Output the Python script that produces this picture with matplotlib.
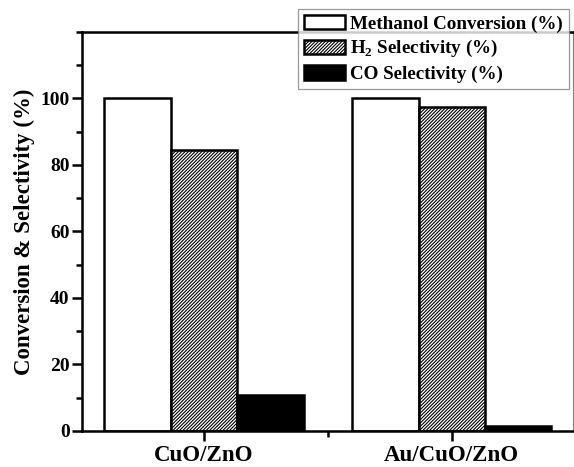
import matplotlib
matplotlib.use('Agg')
import matplotlib.pyplot as plt
import numpy as np
from matplotlib.ticker import MultipleLocator, FixedLocator

# data
catalysts = ['CuO/ZnO', 'Au/CuO/ZnO']
methanol_conv = [100.0, 100.0]
h2_sel = [84.5, 97.5]
co_sel = [10.8, 1.5]

plt.rcParams['font.family'] = ['Liberation Serif', 'DejaVu Serif']
plt.rcParams['font.weight'] = 'bold'
plt.rcParams['mathtext.fontset'] = 'custom'
plt.rcParams['mathtext.rm'] = 'Liberation Serif:bold'
plt.rcParams['mathtext.bf'] = 'Liberation Serif:bold'
plt.rcParams['hatch.linewidth'] = 0.8

fig = plt.figure(figsize=(5.74, 4.67), dpi=100)
ax = fig.add_axes([0.1429, 0.0771, 0.855, 0.8544])

x = np.arange(len(catalysts))
w = 0.268
ax.bar(x - w, methanol_conv, w, color='white', edgecolor='black', linewidth=1.8,
       label='Methanol Conversion (%)')
ax.bar(x, h2_sel, w, color='white', edgecolor='black', hatch='//////////', linewidth=1.8,
       label=r'H$_\mathbf{2}$ Selectivity (%)')
ax.bar(x + w, co_sel, w, color='black', edgecolor='black', linewidth=1.8,
       label='CO Selectivity (%)')

ax.set_xlim(-0.492, 1.488)
ax.set_ylim(0, 120)
ax.set_xticks(x)
ax.set_xticklabels(catalysts, fontsize=16.5, fontweight='bold')
ax.xaxis.set_minor_locator(FixedLocator([0.5]))
ax.set_yticks([0, 20, 40, 60, 80, 100])
ax.yaxis.set_minor_locator(MultipleLocator(10))
ax.tick_params(axis='y', labelsize=14, pad=2)
ax.tick_params(axis='x', pad=3)
ax.tick_params(which='major', direction='out', length=7, width=1.8)
ax.tick_params(which='minor', direction='out', length=4, width=1.8)
ax.set_ylabel('Conversion & Selectivity (%)', fontsize=16.5, fontweight='bold', labelpad=4)

for side in ['left', 'bottom', 'top']:
    ax.spines[side].set_linewidth(1.8)
ax.spines['right'].set_linewidth(0.8)
ax.spines['right'].set_color('gray')

leg = fig.legend(loc='upper left', bbox_to_anchor=(298 / 574, 1 - 9 / 467),
                 fontsize=13.7, frameon=True, fancybox=False, edgecolor='gray',
                 handlelength=2.15, handleheight=0.8, handletextpad=0.3,
                 labelspacing=0.3, borderpad=0.3, borderaxespad=0)
leg.get_frame().set_linewidth(0.9)
for t in leg.get_texts():
    t.set_fontweight('bold')

fig.savefig('out.png', dpi=100)
